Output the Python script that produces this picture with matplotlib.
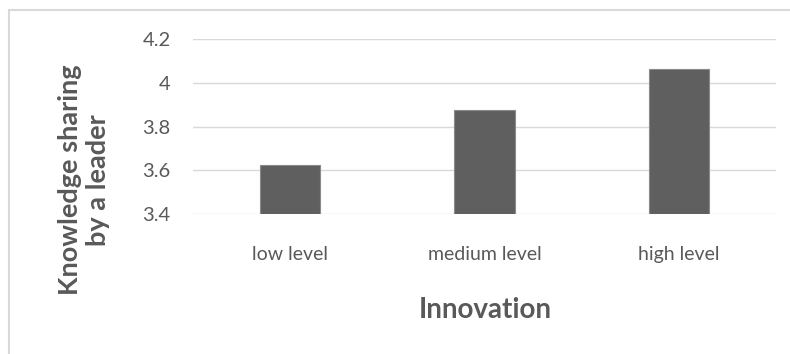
import matplotlib
matplotlib.use("Agg")
import matplotlib.pyplot as plt
from matplotlib.patches import Rectangle

categories = ["low level", "medium level", "high level"]
values = [3.625, 3.875, 4.062]
yticks = [3.4, 3.6, 3.8, 4.0, 4.2]
ytick_labels = ["3.4", "3.6", "3.8", "4", "4.2"]

text_gray = "#595959"
plt.rcParams["font.family"] = ["Lato", "DejaVu Sans"]

fig = plt.figure(figsize=(7.9, 3.54), dpi=100)
ax = fig.add_axes([193 / 790, 1 - 214 / 354, 583 / 790, 175 / 354])

# chart frame
fig.patches.append(Rectangle((9 / 790, -0.1), 1.2, 1 - 10 / 354 + 0.1,
                             transform=fig.transFigure, fill=False,
                             edgecolor="#d9d9d9", linewidth=1.5))

x = range(len(categories))
ax.bar(x, [v - yticks[0] for v in values], bottom=yticks[0], width=0.31,
       color="#5f5f5f", edgecolor="#8a8a8a", linewidth=0.8, zorder=3)

ax.set_xlim(-0.5, 2.5)
ax.set_ylim(3.4, 4.2)
ax.set_yticks(yticks)
ax.set_yticklabels(ytick_labels)
ax.set_xticks(list(x))
ax.set_xticklabels(categories)
ax.grid(axis="y", color="#d9d9d9", linewidth=1, zorder=0)
for s in ax.spines.values():
    s.set_visible(False)
ax.tick_params(axis="y", length=0, pad=16, labelsize=14.5, labelcolor=text_gray)
ax.tick_params(axis="x", length=0, pad=23, labelsize=14, labelcolor=text_gray)

fig.text(84 / 790, 1 - 180 / 354, "Knowledge sharing\nby a leader",
         rotation=90, ha="center", va="center", fontsize=19.5,
         fontweight="bold", color=text_gray, linespacing=1.15)
fig.text(485 / 790, 1 - 310 / 354, "Innovation", ha="center", va="center",
         fontsize=20, fontweight="bold", color=text_gray)

fig.savefig("out.png", dpi=100)
